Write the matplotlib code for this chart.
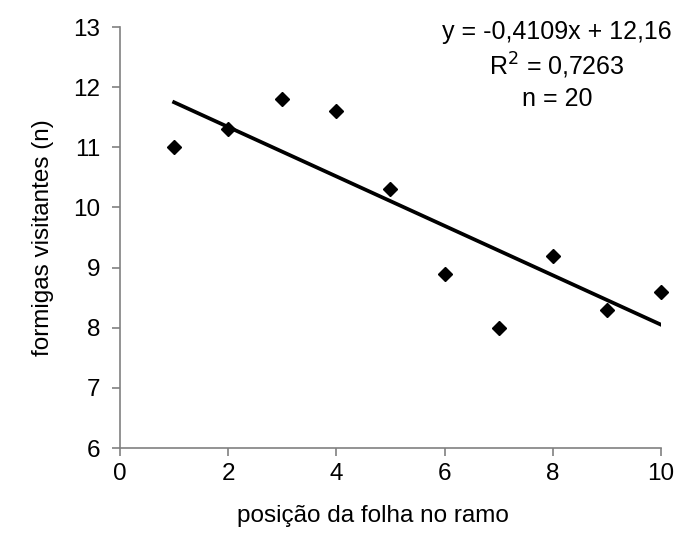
import numpy as np
import matplotlib.pyplot as plt

plt.rcParams['font.family'] = ['Liberation Sans', 'DejaVu Sans']

# posição da folha no ramo / formigas visitantes
posicao = [1, 2, 3, 4, 5, 6, 7, 8, 9, 10]
formigas = [11.0, 11.3, 11.8, 11.6, 10.3, 8.9, 8.0, 9.2, 8.3, 8.6]
# linha de tendência (Excel)
incl = -0.4109
intercepto = 12.16

fig = plt.figure(figsize=(6.87, 5.52), dpi=100)
ax = fig.add_axes([0.1747, 0.1884, 0.7873, 0.7626])

xs = np.array([posicao[0], posicao[-1]])
ax.plot(xs, incl * xs + intercepto, color='black', lw=2.7, zorder=2)
ax.plot(posicao, formigas, 'D', color='black', ms=7.5, zorder=3, clip_on=False)

ax.set_xlim(0, 10)
ax.set_ylim(6, 13)
ax.set_xticks(range(0, 11, 2))
ax.set_yticks(range(6, 14))
ax.spines['top'].set_visible(False)
ax.spines['right'].set_visible(False)
for s in ['left', 'bottom']:
    ax.spines[s].set_color('#808080')
    ax.spines[s].set_linewidth(1.2)
ax.tick_params(direction='out', length=6, width=1.2, color='#808080',
               labelsize=17.5, pad=8)
ax.tick_params(axis='x', pad=5)
ax.set_xlabel('posição da folha no ramo', fontsize=17.5)
ax.xaxis.set_label_coords(0.467, -0.135)
ax.set_ylabel('formigas visitantes (n)', fontsize=17.5, labelpad=14)

fig.text(557 / 687, 1 - 20 / 552, 'y = -0,4109x + 12,16\nR$^2$ = 0,7263\nn = 20',
         ha='center', va='top', fontsize=18, linespacing=1.3)

fig.savefig('out.png', dpi=100)
